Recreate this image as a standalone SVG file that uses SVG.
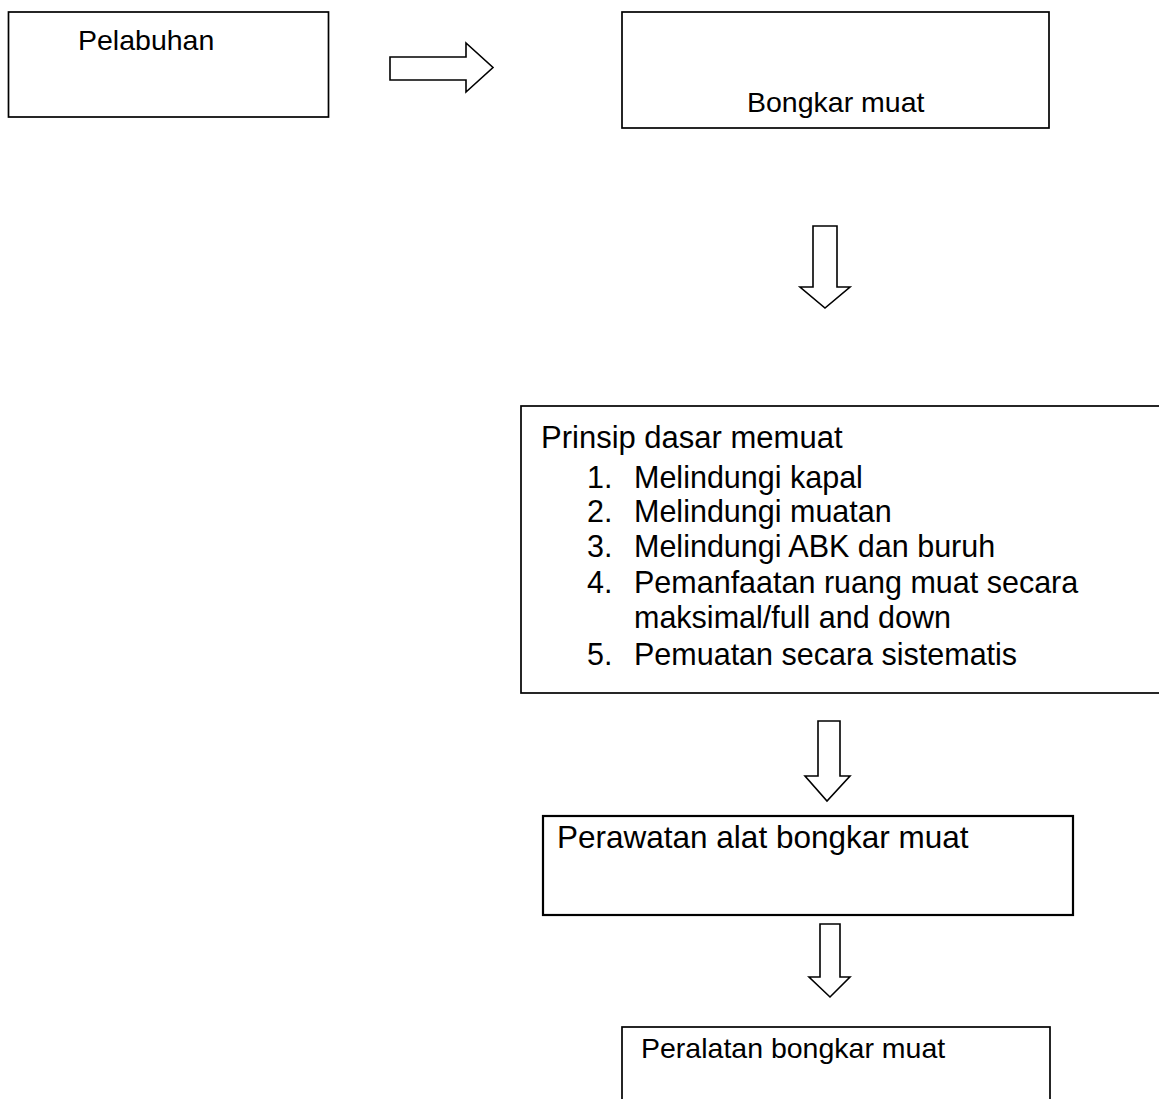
<svg xmlns="http://www.w3.org/2000/svg" width="1159" height="1099" viewBox="0 0 1159 1099">
  <style>
    .box { fill: #ffffff; stroke: #000000; stroke-width: 1.7; }
    .box2 { fill: #ffffff; stroke: #000000; stroke-width: 2.2; }
    .arrow { fill: #ffffff; stroke: #000000; stroke-width: 1.6; stroke-linejoin: miter; }
    text { font-family: "Liberation Sans", Arial, sans-serif; fill: #000000; }
    .t28 { font-size: 28.5px; }
    .t30 { font-size: 30.5px; }
    .t31 { font-size: 31px; }
    .t31b { font-size: 31.5px; }
  </style>
  <rect width="1159" height="1099" fill="#ffffff"/>

  <g id="connectors">
    <polygon class="arrow" points="390,57 466,57 466,43 493,67.5 466,92 466,80 390,80"/>
    <polygon class="arrow" points="813,226 837,226 837,287 850,287 825,308 800,287 813,287"/>
    <polygon class="arrow" points="818,721 840,721 840,776 850,776 827,801 805,776 818,776"/>
    <polygon class="arrow" points="820,924 840,924 840,977 850,977 830,997 809,977 820,977"/>
  </g>

  <g id="node-pelabuhan">
    <rect class="box" x="8.5" y="12" width="320" height="105"/>
    <text class="t28" x="78" y="50">Pelabuhan</text>
  </g>

  <g id="node-bongkar-muat">
    <rect class="box" x="622" y="12" width="427" height="116"/>
    <text class="t28" x="747" y="112">Bongkar muat</text>
  </g>

  <g id="node-prinsip">
    <rect class="box" x="521" y="406" width="660" height="287"/>
    <text class="t31" x="541" y="448">Prinsip dasar memuat</text>
    <text class="t30" x="587" y="488">1.</text>
    <text class="t30" x="634" y="488">Melindungi kapal</text>
    <text class="t30" x="587" y="522">2.</text>
    <text class="t30" x="634" y="522">Melindungi muatan</text>
    <text class="t30" x="587" y="557">3.</text>
    <text class="t30" x="634" y="557">Melindungi ABK dan buruh</text>
    <text class="t30" x="587" y="593">4.</text>
    <text class="t30" x="634" y="593">Pemanfaatan ruang muat secara</text>
    <text class="t30" x="634" y="628">maksimal/full and down</text>
    <text class="t30" x="587" y="665">5.</text>
    <text class="t30" x="634" y="665">Pemuatan secara sistematis</text>
  </g>

  <g id="node-perawatan">
    <rect class="box2" x="543" y="816" width="530" height="99"/>
    <text class="t31b" x="557" y="848">Perawatan alat bongkar muat</text>
  </g>

  <g id="node-peralatan">
    <rect class="box" x="622" y="1027" width="428" height="100"/>
    <text class="t28" x="641" y="1058">Peralatan bongkar muat</text>
  </g>
</svg>
